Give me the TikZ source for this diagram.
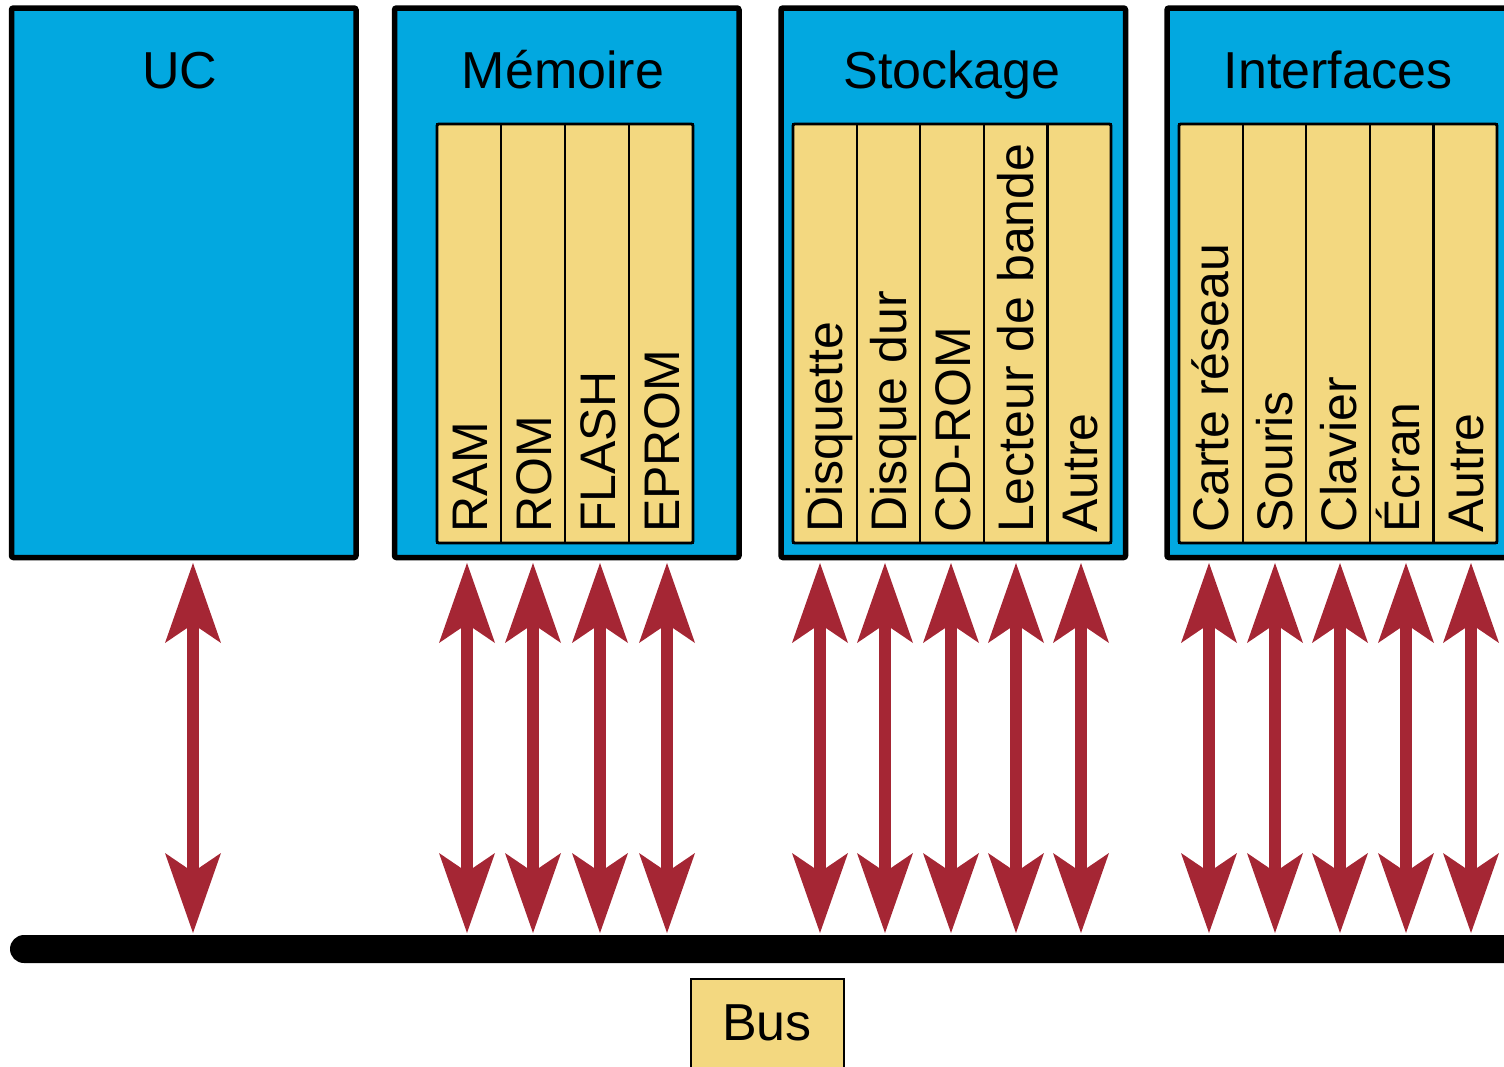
\documentclass[tikz,border=0pt]{standalone}
\usepackage{fontspec}
\setmainfont{Liberation Sans}
\usetikzlibrary{arrows.meta}
\definecolor{boxblue}{RGB}{2,168,224}
\definecolor{cellyellow}{RGB}{243,216,128}
\definecolor{arrowred}{RGB}{165,38,52}
\tikzset{
  unitbox/.style={draw=black, fill=boxblue, line width=5.5pt, rounded corners=2pt,
    minimum width=344.5pt, minimum height=549.5pt, inner sep=0pt, outer sep=0pt},
  boxtitle/.style={anchor=base, inner sep=0pt, font=\fontsize{52}{60}\selectfont},
  cell/.style={draw=black, fill=cellyellow, line width=2.2pt,
    minimum width=63.6pt, minimum height=419pt, inner sep=0pt, outer sep=0pt},
  celltext/.style={rotate=90, anchor=base west, inner sep=0pt, font=\fontsize{50}{60}\selectfont},
  panelframe/.style={draw=black, line width=2.6pt, rounded corners=1.5pt},
  busarrow/.style={draw=arrowred, fill=arrowred, line width=12pt,
    >={Stealth[length=80pt,width=56pt,inset=19pt,line width=0pt]}, <->},
}
\begin{document}
\begin{tikzpicture}[x=1pt, y=-1pt]
  \useasboundingbox (0,0) rectangle (1504,1066);
  \clip (0,0) rectangle (1504,1066);

  % functional units
  \node[unitbox] (uc)  at (183.75,282.75) {};
  \node[unitbox] (mem) at (566.75,282.75) {};
  \node[unitbox] (sto) at (953.25,282.75) {};
  \node[unitbox] (itf) at (1339.25,282.75) {};

  \node[boxtitle] (uct)  at (180,88)  {UC};
  \node[boxtitle] (memt) at (563,88)  {Mémoire};
  \node[boxtitle] (stot) at (952,88)  {Stockage};
  \node[boxtitle] (itft) at (1338,88) {Interfaces};

  % memory cells
  \foreach \i/\lab in {0/RAM,1/ROM,2/FLASH,3/EPROM}{
    \pgfmathsetmacro{\cx}{437+64*\i+32}
    \node[cell, minimum width=64pt] (m\i) at (\cx,333.5) {};
    \node[celltext] (m\i t) at (\cx+18,533) {\lab};
  }
  \draw[panelframe] (437,124) rectangle (693,543);

  % storage cells
  \foreach \i/\lab in {0/Disquette,1/Disque dur,2/CD-ROM,3/Lecteur de bande,4/Autre}{
    \pgfmathsetmacro{\cx}{793+63.6*\i+31.8}
    \node[cell] (s\i) at (\cx,333.5) {};
    \node[celltext] (s\i t) at (\cx+18,533) {\lab};
  }
  \draw[panelframe] (793,124) rectangle (1111,543);

  % interface cells
  \foreach \i/\lab in {0/Carte réseau,1/Souris,2/Clavier,3/Écran,4/Autre}{
    \pgfmathsetmacro{\cx}{1179+63.6*\i+31.8}
    \node[cell] (f\i) at (\cx,333.5) {};
    \node[celltext] (f\i t) at (\cx+18,533) {\lab};
  }
  \draw[panelframe] (1179,124) rectangle (1497,543);

  % bus
  \node[fill=black, rounded corners=14pt, minimum width=1600pt, minimum height=28pt,
        inner sep=0pt, outer sep=0pt, anchor=west] (bus) at (10,949) {};
  \node[draw=black, fill=cellyellow, line width=2pt, minimum width=153pt, minimum height=120pt,
        inner sep=0pt, anchor=north west] (busbox) at (690,978) {};
  \node[boxtitle] (bust) at (767,1040) {Bus};

  % connections between the units and the bus
  \foreach \n/\x in {a0/193, a1/467, a2/533, a3/600, a4/667,
                     a5/820, a6/885, a7/951, a8/1016, a9/1081,
                     a10/1209, a11/1275, a12/1340, a13/1406, a14/1471}{
    \coordinate (\n t) at (\x,563);
    \coordinate (\n b) at (\x,933);
    \draw[busarrow] (\n t) -- (\n b);
  }
\end{tikzpicture}
\end{document}
